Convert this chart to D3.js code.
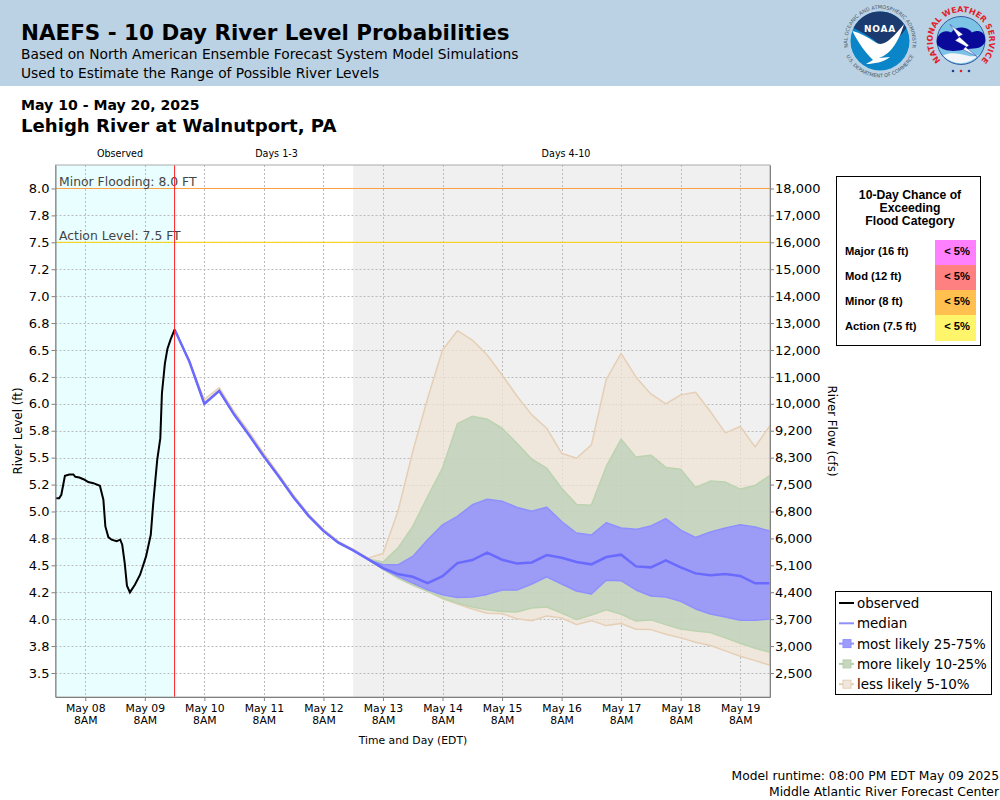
<!doctype html>
<html lang="en">
  <head>
    <title>NAEFS - 10 Day River Level Probabilities</title>
    <meta charset="utf-8">
    <script src="https://d3js.org/d3.v7.min.js"></script>
    <style>
      html, body { margin: 0; padding: 0; background: #fff; }
      svg { display: block; }
      text { font-family: "DejaVu Sans", sans-serif; fill: #000; }
      .grid line { stroke: #bbb; stroke-width: 1; stroke-dasharray: 2,2; }
      .axis path, .axis line { stroke: #808080; }
      .axis text { font-family: "DejaVu Sans", sans-serif; }
    </style>
  </head>
  <body>
    <div id="chart"></div>
    <script>
      // left axis ticks, river level in feet
      var levelTicks = [8, 7.75, 7.5, 7.25, 7, 6.75, 6.5, 6.25, 6, 5.75, 5.5, 5.25, 5, 4.75, 4.5, 4.25, 4, 3.75, 3.5];
      var levelLabels = ["8.0", "7.8", "7.5", "7.2", "7.0", "6.8", "6.5", "6.2", "6.0", "5.8", "5.5", "5.2", "5.0", "4.8", "4.5", "4.2", "4.0", "3.8", "3.5"];
      var flowLabels = ["18,000", "17,000", "16,000", "15,000", "14,000", "13,000", "12,000", "11,000", "10,000", "9,200", "8,300", "7,500", "6,800", "6,000", "5,100", "4,400", "3,700", "3,000", "2,500"];

      var dayTicks = ["May 08", "May 09", "May 10", "May 11", "May 12", "May 13", "May 14", "May 15", "May 16", "May 17", "May 18", "May 19"];

      // observed stage, hours after May 07 8PM
      var obsHours = [0.2, 1.5, 2.35, 3.8, 5.6, 7.2, 8, 9.6, 11.5, 13.2, 15.25, 17.9, 19.3, 20.1, 21.3, 22.6, 24.65, 26.1, 26.9, 27.9, 28.8, 30, 32, 34.1, 36.5, 38.4, 39.4, 40.2, 41, 42.25, 42.9, 44.1, 45.1, 46.4, 48];
      var obsLevel = [5.124, 5.124, 5.155, 5.331, 5.344, 5.344, 5.322, 5.316, 5.297, 5.273, 5.263, 5.239, 5.109, 4.861, 4.762, 4.738, 4.725, 4.738, 4.691, 4.521, 4.311, 4.249, 4.32, 4.413, 4.583, 4.784, 5.078, 5.279, 5.48, 5.681, 6.098, 6.376, 6.509, 6.599, 6.69];

      // forecast series, one value every 6 hours from May 09 8PM
      var median = [6.69, 6.39, 6.00, 6.12, 5.90, 5.71, 5.51, 5.325, 5.13, 4.96, 4.82, 4.71, 4.638, 4.558, 4.474, 4.419, 4.394, 4.335, 4.40, 4.521, 4.549, 4.617, 4.552, 4.518, 4.527, 4.595, 4.57, 4.531, 4.509, 4.577, 4.599, 4.49, 4.481, 4.546, 4.481, 4.425, 4.407, 4.419, 4.401, 4.333, 4.333];
      var mostUpper = [6.69, 6.39, 6.00, 6.12, 5.90, 5.71, 5.51, 5.325, 5.13, 4.96, 4.82, 4.71, 4.638, 4.552, 4.505, 4.505, 4.583, 4.737, 4.876, 4.954, 5.062, 5.114, 5.096, 5.037, 5.003, 5.04, 4.907, 4.80, 4.781, 4.895, 4.846, 4.834, 4.865, 4.933, 4.827, 4.759, 4.809, 4.846, 4.877, 4.855, 4.818];
      var mostLower = [6.69, 6.39, 6.00, 6.12, 5.90, 5.71, 5.51, 5.325, 5.13, 4.96, 4.82, 4.71, 4.638, 4.552, 4.468, 4.397, 4.335, 4.273, 4.227, 4.202, 4.205, 4.23, 4.27, 4.27, 4.326, 4.394, 4.326, 4.262, 4.234, 4.361, 4.357, 4.271, 4.215, 4.206, 4.166, 4.095, 4.048, 4.02, 3.99, 3.99, 4.002];
      var moreUpper = [6.69, 6.39, 6.005, 6.125, 5.905, 5.715, 5.515, 5.33, 5.135, 4.965, 4.825, 4.715, 4.64, 4.558, 4.53, 4.66, 4.861, 5.139, 5.402, 5.816, 5.884, 5.857, 5.773, 5.634, 5.485, 5.402, 5.216, 5.066, 5.059, 5.418, 5.672, 5.505, 5.523, 5.409, 5.393, 5.223, 5.282, 5.273, 5.208, 5.242, 5.335];
      var moreLower = [6.69, 6.39, 6.00, 6.12, 5.90, 5.71, 5.51, 5.325, 5.13, 4.96, 4.82, 4.71, 4.638, 4.552, 4.465, 4.382, 4.32, 4.258, 4.196, 4.15, 4.113, 4.088, 4.072, 4.066, 4.103, 4.113, 4.057, 3.996, 4.039, 4.088, 4.045, 3.983, 3.993, 3.949, 3.909, 3.89, 3.875, 3.826, 3.776, 3.73, 3.693];
      var lessUpper = [6.69, 6.39, 6.04, 6.15, 5.93, 5.74, 5.54, 5.345, 5.15, 4.975, 4.835, 4.725, 4.65, 4.567, 4.61, 5.00, 5.557, 6.051, 6.50, 6.679, 6.592, 6.453, 6.268, 6.073, 5.897, 5.773, 5.541, 5.495, 5.619, 6.228, 6.469, 6.247, 6.092, 5.999, 6.083, 6.108, 5.928, 5.73, 5.789, 5.60, 5.798];
      var lessLower = [6.69, 6.39, 6.00, 6.12, 5.90, 5.71, 5.51, 5.325, 5.13, 4.96, 4.82, 4.71, 4.638, 4.552, 4.465, 4.382, 4.314, 4.258, 4.19, 4.141, 4.094, 4.054, 4.051, 4.004, 3.986, 4.029, 4.011, 3.949, 3.986, 3.94, 3.959, 3.906, 3.903, 3.86, 3.826, 3.785, 3.755, 3.705, 3.656, 3.615, 3.572];

      var floodLabels = ["Major (16 ft)", "Mod (12 ft)", "Minor (8 ft)", "Action (7.5 ft)"];
      var floodChance = ["< 5%", "< 5%", "< 5%", "< 5%"];
      var floodColors = ["#ff80ff", "#ff8080", "#ffc050", "#fff56a"];

      var legendLabels = ["observed", "median", "most likely 25-75%", "more likely 10-25%", "less likely 5-10%"];

      var width = 1000, height = 800;
      var plotLeft = 55.5, plotRight = 770, plotTop = 165, plotBottom = 697;
      var start = new Date(2025, 4, 7, 20);

      function hoursAfterStart(h) {
        return new Date(start.getTime() + h * 3600000);
      }

      var x = d3.scaleTime()
        .domain([start, new Date(2025, 4, 19, 20)])
        .range([plotLeft, plotRight]);

      var y = d3.scaleLinear()
        .domain([3.277, 8.218])
        .range([plotBottom, plotTop]);

      var svg = d3.select('#chart').append('svg')
        .attr('width', width)
        .attr('height', height);

      // header strip
      svg.append('rect').attr('width', width).attr('height', 86).attr('fill', '#bbd2e5');
      svg.append('text').attr('x', 21).attr('y', 40).attr('font-size', 21.45).attr('font-weight', 'bold')
        .text('NAEFS - 10 Day River Level Probabilities');
      svg.append('text').attr('x', 21).attr('y', 59).attr('font-size', 13.78)
        .text('Based on North American Ensemble Forecast System Model Simulations');
      svg.append('text').attr('x', 21).attr('y', 78).attr('font-size', 13.78)
        .text('Used to Estimate the Range of Possible River Levels');
      svg.append('text').attr('x', 21).attr('y', 110).attr('font-size', 14.08).attr('font-weight', 'bold')
        .text('May 10 - May 20, 2025');
      svg.append('text').attr('x', 21).attr('y', 132).attr('font-size', 18.1).attr('font-weight', 'bold')
        .text('Lehigh River at Walnutport, PA');

      drawNoaaLogo(svg.append('g').attr('transform', 'translate(880,41)'));
      drawNwsLogo(svg.append('g').attr('transform', 'translate(961,40.5)'));

      // section captions
      var sections = [['Observed', 120], ['Days 1-3', 276.5], ['Days 4-10', 566]];
      svg.selectAll('.section').data(sections).enter().append('text')
        .attr('class', 'section')
        .attr('x', function(d) { return d[1]; })
        .attr('y', 157)
        .attr('text-anchor', 'middle')
        .attr('font-size', 9.6)
        .text(function(d) { return d[0]; });

      // panel backgrounds
      var nowX = x(hoursAfterStart(48));
      var day3X = x(hoursAfterStart(120));
      svg.append('rect').attr('x', plotLeft).attr('y', plotTop).attr('width', nowX - plotLeft).attr('height', plotBottom - plotTop).attr('fill', '#e9ffff');
      svg.append('rect').attr('x', day3X).attr('y', plotTop).attr('width', plotRight - day3X).attr('height', plotBottom - plotTop).attr('fill', '#f0f0f0');

      // grid
      var dayDates = dayTicks.map(function(d, i) { return new Date(2025, 4, 8 + i, 8); });
      var grid = svg.append('g').attr('class', 'grid');
      grid.selectAll('.h').data(levelTicks).enter().append('line')
        .attr('x1', plotLeft).attr('x2', plotRight)
        .attr('y1', function(d) { return Math.round(y(d)) + 0.5; })
        .attr('y2', function(d) { return Math.round(y(d)) + 0.5; });
      grid.selectAll('.v').data(dayDates).enter().append('line')
        .attr('y1', plotTop).attr('y2', plotBottom)
        .attr('x1', function(d) { return Math.round(x(d)) + 0.5; })
        .attr('x2', function(d) { return Math.round(x(d)) + 0.5; });

      // forecast bands
      var forecastTime = median.map(function(d, i) { return hoursAfterStart(48 + i * 6); });

      function band(upper, lower, fill, stroke, alpha) {
        var area = d3.area()
          .x(function(d, i) { return x(forecastTime[i]); })
          .y0(function(d, i) { return y(lower[i]); })
          .y1(function(d) { return y(d); });
        svg.append('path').datum(upper)
          .attr('d', area)
          .attr('fill', fill)
          .attr('fill-opacity', alpha)
          .attr('stroke', stroke)
          .attr('stroke-width', 1.5)
          .attr('stroke-linejoin', 'round');
      }

      band(lessUpper, lessLower, 'rgb(238,226,212)', '#e5cfb5', 0.72);
      band(moreUpper, moreLower, 'rgb(184,207,183)', '#bcd3b0', 0.72);
      band(mostUpper, mostLower, 'rgb(148,146,255)', '#8f8fff', 0.85);

      var medianLine = d3.line()
        .x(function(d, i) { return x(forecastTime[i]); })
        .y(function(d) { return y(d); });
      svg.append('path').datum(median)
        .attr('d', medianLine)
        .attr('fill', 'none')
        .attr('stroke', '#6a6aff')
        .attr('stroke-width', 2.5);

      var obsLine = d3.line()
        .x(function(d, i) { return x(hoursAfterStart(obsHours[i])); })
        .y(function(d) { return y(d); });
      svg.append('path').datum(obsLevel)
        .attr('d', obsLine)
        .attr('fill', 'none')
        .attr('stroke', '#000')
        .attr('stroke-width', 2);

      // flood stage markers
      svg.append('line').attr('x1', plotLeft).attr('x2', plotRight).attr('y1', y(8)).attr('y2', y(8)).attr('stroke', '#ffa040').attr('stroke-width', 1);
      svg.append('line').attr('x1', plotLeft).attr('x2', plotRight).attr('y1', y(7.5)).attr('y2', y(7.5)).attr('stroke', '#ffd000').attr('stroke-width', 1);
      svg.append('text').attr('x', 59).attr('y', 186).attr('font-size', 12.4).style('fill', '#444').text('Minor Flooding: 8.0 FT');
      svg.append('text').attr('x', 59).attr('y', 240).attr('font-size', 12.4).style('fill', '#444').text('Action Level: 7.5 FT');

      // now line
      svg.append('line').attr('x1', nowX).attr('x2', nowX).attr('y1', plotTop).attr('y2', plotBottom).attr('stroke', '#ff2020').attr('stroke-width', 1);

      // frame and axes
      svg.append('rect').attr('x', plotLeft).attr('y', plotTop).attr('width', plotRight - plotLeft).attr('height', plotBottom - plotTop)
        .attr('fill', 'none').attr('stroke', '#aaa');

      var yLeft = d3.axisLeft(y).tickValues(levelTicks).tickSizeInner(4).tickSizeOuter(0).tickPadding(2)
        .tickFormat(function(d, i) { return levelLabels[i]; });
      var gLeft = svg.append('g').attr('class', 'axis').attr('transform', 'translate(' + plotLeft + ',0)').call(yLeft);
      gLeft.selectAll('text').style('font-size', '13px');

      var yRight = d3.axisRight(y).tickValues(levelTicks).tickSizeInner(4).tickSizeOuter(0).tickPadding(1)
        .tickFormat(function(d, i) { return flowLabels[i]; });
      var gRight = svg.append('g').attr('class', 'axis').attr('transform', 'translate(' + plotRight + ',0)').call(yRight);
      gRight.selectAll('text').style('font-size', '13px');

      var xAxis = d3.axisBottom(x).tickValues(dayDates).tickSizeInner(4).tickSizeOuter(0).tickPadding(3)
        .tickFormat(function(d, i) { return dayTicks[i]; });
      var gBottom = svg.append('g').attr('class', 'axis').attr('transform', 'translate(0,' + plotBottom + ')').call(xAxis);
      gBottom.selectAll('text').style('font-size', '10.8px');
      gBottom.selectAll('.tick').append('text')
        .attr('y', 27)
        .attr('text-anchor', 'middle')
        .style('font-size', '10.8px')
        .style('fill', '#000')
        .text('8AM');

      svg.append('text').attr('x', 413).attr('y', 744).attr('text-anchor', 'middle').attr('font-size', 10.8).text('Time and Day (EDT)');
      svg.append('text').attr('transform', 'translate(22,431) rotate(-90)').attr('text-anchor', 'middle').attr('font-size', 11.8).text('River Level (ft)');
      svg.append('text').attr('transform', 'translate(828,431) rotate(90)').attr('text-anchor', 'middle').attr('font-size', 11.8).text('River Flow (cfs)');

      // flood category table
      var table = svg.append('g');
      table.append('rect').attr('x', 836.5).attr('y', 176.5).attr('width', 144).attr('height', 169)
        .attr('fill', '#fff').attr('stroke', '#000');
      ['10-Day Chance of', 'Exceeding', 'Flood Category'].forEach(function(t, i) {
        table.append('text').attr('x', 910).attr('y', 199 + i * 13)
          .attr('text-anchor', 'middle').attr('font-size', 12.2).attr('font-weight', 'bold')
          .style('font-family', '"Liberation Sans", sans-serif').text(t);
      });
      floodLabels.forEach(function(t, i) {
        var rowY = 240 + i * 25;
        table.append('rect').attr('x', 935).attr('y', rowY).attr('width', 41).attr('height', i == 3 ? 26 : 25).attr('fill', floodColors[i]);
        table.append('text').attr('x', 845).attr('y', rowY + 15).attr('font-size', 11.2).attr('font-weight', 'bold')
          .style('font-family', '"Liberation Sans", sans-serif').text(t);
        table.append('text').attr('x', 970).attr('y', rowY + 15).attr('text-anchor', 'end').attr('font-size', 11.2).attr('font-weight', 'bold')
          .style('font-family', '"Liberation Sans", sans-serif').text(floodChance[i]);
      });

      // legend
      var legend = svg.append('g');
      legend.append('rect').attr('x', 835.5).attr('y', 591.5).attr('width', 156).attr('height', 103).attr('fill', '#fff').attr('stroke', '#000');
      var legendLine = ['#000', '#8f8fff', '#8f8fff', '#b3d0a8', '#e5cfb5'];
      var legendBox = [null, null, '#9c9cfa', '#c8d6c0', '#efe7dd'];
      legendLabels.forEach(function(t, i) {
        var rowY = 603 + i * 20.3;
        legend.append('line').attr('x1', 839).attr('x2', 854).attr('y1', rowY).attr('y2', rowY)
          .attr('stroke', legendLine[i]).attr('stroke-width', 2);
        if (legendBox[i]) {
          legend.append('rect').attr('x', 843).attr('y', rowY - 4).attr('width', 8).attr('height', 8)
            .attr('fill', legendBox[i]).attr('stroke', legendLine[i]);
        }
        legend.append('text').attr('x', 857).attr('y', rowY + 5).attr('font-size', 13.45).text(t);
      });

      // footer
      svg.append('text').attr('x', 999).attr('y', 780).attr('text-anchor', 'end').attr('font-size', 12.3).text('Model runtime: 08:00 PM EDT May 09 2025');
      svg.append('text').attr('x', 999).attr('y', 796).attr('text-anchor', 'end').attr('font-size', 12.4).text('Middle Atlantic River Forecast Center');

      function drawNoaaLogo(g) {
        g.append('defs').append('path').attr('id', 'noaaRing').attr('d', 'M-32,6 A32.5,32.5 0 1,1 32,6');
        g.append('text').attr('font-size', 5).style('fill', '#4a5a68').append('textPath')
          .attr('href', '#noaaRing').attr('startOffset', '50%').attr('text-anchor', 'middle')
          .text('NATIONAL OCEANIC AND ATMOSPHERIC ADMINISTRATION');
        g.append('defs').append('path').attr('id', 'noaaRingLow').attr('d', 'M-34,14 A37,37 0 0,0 34,14');
        g.append('text').attr('font-size', 5).style('fill', '#4a5a68').append('textPath')
          .attr('href', '#noaaRingLow').attr('startOffset', '50%').attr('text-anchor', 'middle')
          .text('U.S. DEPARTMENT OF COMMERCE');
        g.append('circle').attr('r', 29.5).attr('fill', '#0a86c8');
        g.append('path').attr('d', 'M-26.5,-13 A29.5,29.5 0 0,1 26.5,-13 C21,-5 14,2 6,7 C0,4 -3,2 -6,-1 C-13,-6 -20,-10 -26.5,-13 Z').attr('fill', '#1b3a70');
        g.append('path').attr('d', 'M-27.5,-10 C-20,-8 -12,-4 -5,1 C3,7 12,-2 24,-17 C20,-3 12,13 -1,17 L10,16 C4,21 -6,23 -14,23 L-7,19 C-14,12 -22,2 -27.5,-10 Z').attr('fill', '#fff');
        g.append('text').attr('y', -9).attr('text-anchor', 'middle').attr('font-size', 9).attr('letter-spacing', 0.8).attr('font-weight', 'bold').style('fill', '#fff').text('NOAA');
      }

      function drawNwsLogo(g) {
        g.append('defs').append('path').attr('id', 'nwsRing').attr('d', 'M-20,20 A28.3,28.3 0 1,1 20,20');
        g.append('text').attr('font-size', 8).attr('font-weight', 'bold').style('fill', '#e0202a').append('textPath')
          .attr('href', '#nwsRing').attr('startOffset', '50%').attr('text-anchor', 'middle')
          .text('NATIONAL WEATHER SERVICE');
        g.append('circle').attr('r', 24).attr('fill', '#7cc3e6').attr('stroke', '#1c3f8f').attr('stroke-width', 0.8);
        g.append('path').attr('d', 'M-24,4 C-26,-6 -17,-12 -10,-8 C-4,-16 8,-13 11,-8 C18,-12 26,-8 24,2 C19,10 12,7 4,9 C-6,11 -17,12 -24,4 Z').attr('fill', '#0a0a9a');
        g.append('path').attr('d', 'M-18,15 C-10,11 -2,13 6,15 C12,17 16,15 18,14 A24,24 0 0,1 -18,15 Z').attr('fill', '#f2f6fa');
        g.append('path').attr('d', 'M-11,-16 L2,-6 L-2,-4 L8,5 L5,7 L16,16 L2,9 L5,6 L-6,0 L-2,-3 Z').attr('fill', '#fff').attr('stroke', '#0a0a9a').attr('stroke-width', 0.4);
        [-8, 0, 8].forEach(function(dx, i) {
          g.append('circle').attr('cx', dx).attr('cy', 30.5).attr('r', 1.3).attr('fill', i == 1 ? '#e0202a' : '#1c3f8f');
        });
      }
    </script>
  </body>
</html>
